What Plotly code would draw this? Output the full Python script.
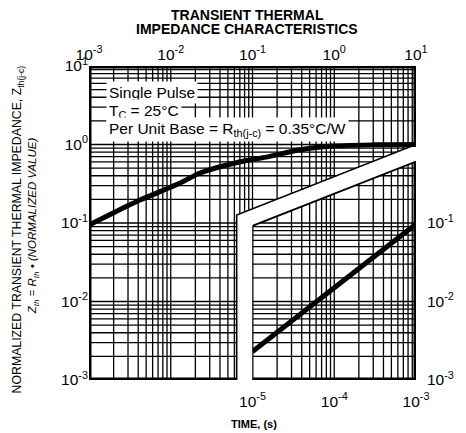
import math
import plotly.graph_objects as go

# ---------------- data ----------------
# main curve (top time axis, 1e-3 .. 10 s)
main_t = [1e-3, 2.0e-3, 4.2e-3, 1.28e-2, 2.24e-2, 6.9e-2, 0.146, 0.367, 0.85, 3.0, 10.0]
main_z = [0.094, 0.135, 0.196, 0.320, 0.430, 0.598, 0.690, 0.850, 0.950, 0.99, 1.0]
# inset curve (bottom time axis, 1e-5 .. 1e-3 s)
inset_t = [1e-5, 1e-4, 1e-3]
inset_z = [0.0023, 0.0150, 0.097]

top_ticks = [1e-3, 1e-2, 1e-1, 1e0, 1e1]
top_text = ["10<sup>-3</sup>", "10<sup>-2</sup>", "10<sup>-1</sup>", "10<sup>0</sup>", "10<sup>1</sup>"]
bot_ticks = [1e-5, 1e-4, 1e-3]
bot_text = ["10<sup>-5</sup>", "10<sup>-4</sup>", "10<sup>-3</sup>"]
left_ticks = [1e-3, 1e-2, 1e-1, 1e0, 1e1]
left_text = ["10<sup>-3</sup>", "10<sup>-2</sup>", "10<sup>-1</sup>", "10<sup>0</sup>", "10<sup>1</sup>"]
right_ticks = [1e-3, 1e-2, 1e-1]
right_text = ["10<sup>-3</sup>", "10<sup>-2</sup>", "10<sup>-1</sup>"]

# panel geometry (in data units)
CUT_T = 0.064        # right edge of the lower part of the main panel (top axis)
SLOPE = 0.409        # decades of Z per decade of t for the slanted edges
INSET_Z0 = 0.092     # Z of inset top-left corner (at t = 1e-5)
MULT = [1, 2, 3, 4, 5, 6, 7, 8, 9]

FONT = "Arial, Liberation Sans, Helvetica, sans-serif"

# plot area in figure pixels (page has an 8px body margin)
W, H = 458, 425
L, R, T, B = 81, 48, 58, 53
PW, PH = W - L - R, H - T - B


def px(xp):   # reference-screenshot x pixel -> paper fraction
    return (xp - 8 - L) / PW


def py(yp):   # reference-screenshot y pixel -> paper fraction
    return (H - B - (yp - 8)) / PH


def main_bottom(t):
    if t <= CUT_T:
        return 1e-3
    return 10 ** (SLOPE * (math.log10(t) - 1))


def main_right(z):
    zc = main_bottom(CUT_T * 1.0000001)
    if z >= 1:
        return 10.0
    if z <= zc:
        return CUT_T
    return 10 ** (1 + math.log10(z) / SLOPE)


def inset_top(u):
    return 10 ** (math.log10(INSET_Z0) + SLOPE * (math.log10(u) + 5))


def inset_left(z):
    if z <= INSET_Z0:
        return 1e-5
    return 10 ** (-5 + (math.log10(z) - math.log10(INSET_Z0)) / SLOPE)


def decade_vals(d0, d1, last):
    vals = [m * 10 ** d for d in range(d0, d1 + 1) for m in MULT]
    return vals + [last]


fig = go.Figure()

# ---- main panel grid ----
gx, gy = [], []
for t in decade_vals(-3, 0, 10.0):
    gx += [t, t, None]
    gy += [10.0, main_bottom(t), None]
for z in decade_vals(-3, 0, 10.0):
    gx += [1e-3, main_right(z), None]
    gy += [z, z, None]
fig.add_trace(go.Scatter(x=gx, y=gy, xaxis="x2", yaxis="y", mode="lines",
                         line=dict(color="black", width=1.3), hoverinfo="skip"))

# ---- inset grid ----
ix, iy = [], []
for u in decade_vals(-5, -4, 1e-3):
    ix += [u, u, None]
    iy += [1e-3, inset_top(u), None]
ztop = inset_top(1e-3)
for z in decade_vals(-3, 0, 10.0):
    if z < ztop:
        ix += [inset_left(z), 1e-3, None]
        iy += [z, z, None]
fig.add_trace(go.Scatter(x=ix, y=iy, xaxis="x", yaxis="y", mode="lines",
                         line=dict(color="black", width=1.3), hoverinfo="skip"))

# ---- frames ----
zc = main_bottom(CUT_T * 1.0000001)
fig.add_trace(go.Scatter(x=[10, 10, None, 10.0, 1e-3, 1e-3, CUT_T], y=[1.0, 10, None, 10, 10, 1e-3, 1e-3],
                         xaxis="x2", yaxis="y", mode="lines", line=dict(color="black", width=5),
                         hoverinfo="skip"))
fig.add_trace(go.Scatter(x=[10, CUT_T, CUT_T], y=[1.0, zc, 1e-3], xaxis="x2", yaxis="y", mode="lines",
                         line=dict(color="black", width=1.6), hoverinfo="skip"))
fig.add_trace(go.Scatter(x=[1e-5, 1e-3, 1e-3], y=[1e-3, 1e-3, ztop], xaxis="x", yaxis="y", mode="lines",
                         line=dict(color="black", width=5), hoverinfo="skip"))
fig.add_trace(go.Scatter(x=[1e-5, 1e-5, 1e-3], y=[1e-3, INSET_Z0, ztop], xaxis="x", yaxis="y", mode="lines",
                         line=dict(color="black", width=1.8), hoverinfo="skip"))

# ---- curves ----
fig.add_trace(go.Scatter(x=main_t, y=main_z, xaxis="x2", yaxis="y", mode="lines",
                         line=dict(color="black", width=5, shape="spline", smoothing=0.7), hoverinfo="skip"))
fig.add_trace(go.Scatter(x=inset_t, y=inset_z, xaxis="x", yaxis="y", mode="lines",
                         line=dict(color="black", width=5), hoverinfo="skip"))
fig.add_trace(go.Scatter(x=[1e-4], y=[1e-2], xaxis="x", yaxis="y3", mode="markers",
                         marker=dict(opacity=0), hoverinfo="skip"))

tickfont = dict(family=FONT, size=15.5, color="black")
fig.update_layout(
    width=W, height=H,
    margin=dict(l=L, r=R, t=T, b=B),
    paper_bgcolor="white", plot_bgcolor="rgba(0,0,0,0)",
    showlegend=False,
    xaxis=dict(type="log", range=[-5.0001, -2.9999], domain=[0.5, 1], anchor="y",
               tickvals=bot_ticks, ticktext=bot_text, showgrid=False, zeroline=False,
               showline=False, ticks="", tickfont=tickfont, ticklabelstandoff=10),
    xaxis2=dict(type="log", range=[-3.0001, 1.0001], domain=[0, 1], anchor="y", side="top",
                tickvals=top_ticks, ticktext=top_text, showgrid=False, zeroline=False,
                showline=False, ticks="", tickfont=tickfont, ticklabelstandoff=2),
    yaxis=dict(type="log", range=[-3.0001, 1.0001], anchor="x2", side="left",
               tickvals=left_ticks, ticktext=left_text, showgrid=False, zeroline=False,
               showline=False, ticks="", tickfont=tickfont),
    yaxis3=dict(type="log", range=[-3.0001, 1.0001], anchor="x", side="right", overlaying="y",
                tickvals=right_ticks, ticktext=right_text, showgrid=False, zeroline=False,
                showline=False, ticks="", tickfont=tickfont, ticklabelstandoff=10),
)

ann = []
for txt, ypx in [("<b>TRANSIENT THERMAL</b>", 14.5), ("<b>IMPEDANCE CHARACTERISTICS</b>", 29)]:
    ann.append(dict(text=txt, xref="paper", yref="paper", x=px(248), y=py(ypx),
                    xanchor="center", yanchor="middle",
                    showarrow=False, font=dict(family=FONT, size=14, color="black")))
box = [("Single Pulse", 92), ("T<sub>C</sub> = 25°C", 111),
       ("Per Unit Base = R<sub>th(j-c)</sub> = 0.35°C/W", 130)]
for txt, ypx in box:
    ann.append(dict(text=txt, xref="paper", yref="paper", x=px(106), y=py(ypx),
                    xanchor="left", yanchor="middle", showarrow=False, bgcolor="white", borderpad=2,
                    font=dict(family=FONT, size=15.5, color="black")))
ann.append(dict(text="<b>TIME, (s)</b>", xref="paper", yref="paper", x=px(255), y=py(424),
                xanchor="center", yanchor="middle", showarrow=False,
                font=dict(family=FONT, size=11, color="black")))
ann.append(dict(text="NORMALIZED TRANSIENT THERMAL IMPEDANCE, Z<sub>th(j-c)</sub>", xref="paper", yref="paper",
                x=px(18), y=py(229), xanchor="center", yanchor="middle", textangle=-90,
                showarrow=False, font=dict(family=FONT, size=12.3, color="black")))
ann.append(dict(text="<i>Z<sub>th</sub> = R<sub>th</sub> • (NORMALIZED VALUE)</i>", xref="paper", yref="paper",
                x=px(33), y=py(226), xanchor="center", yanchor="middle", textangle=-90,
                showarrow=False, font=dict(family=FONT, size=11.5, color="black")))
fig.update_layout(annotations=ann)

fig.write_html("out.html")
